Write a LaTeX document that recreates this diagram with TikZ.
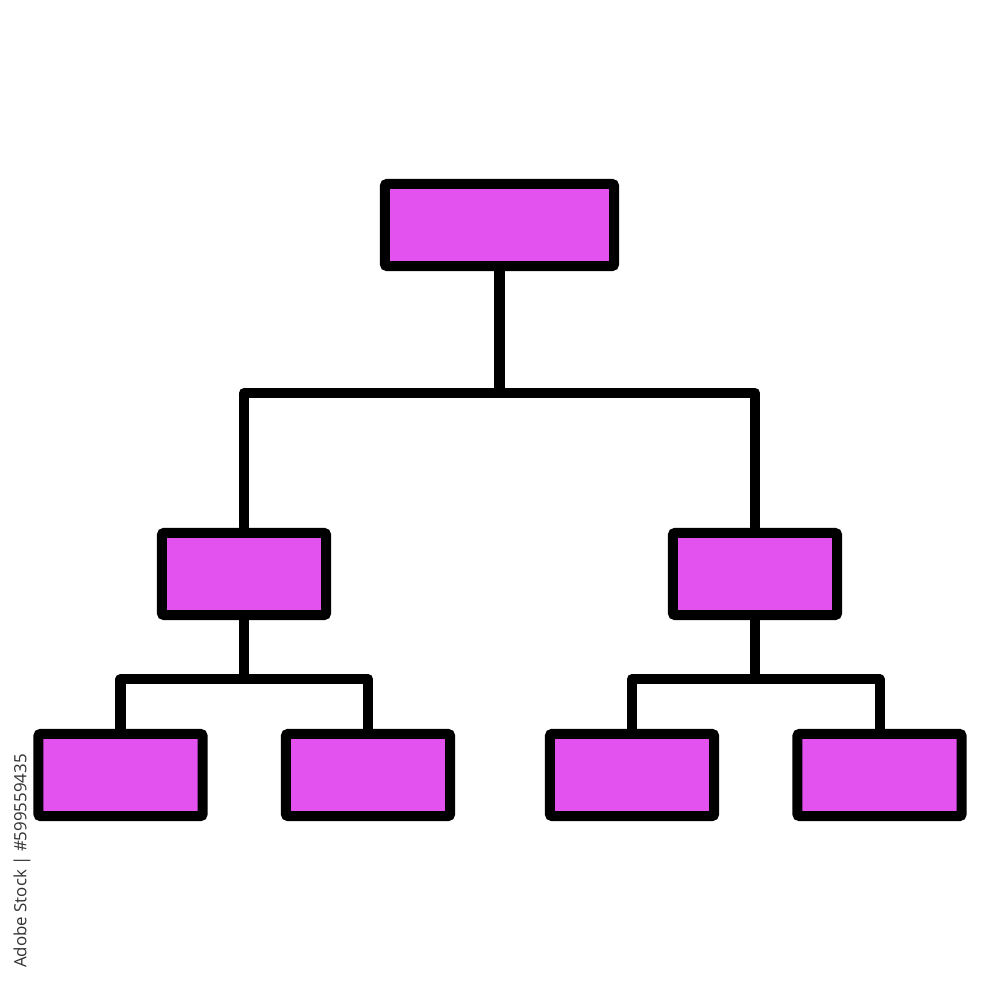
\documentclass[tikz,border=0pt]{standalone}
\usepackage{fontspec}
\newfontfamily\wmfont{Open Sans}
\definecolor{boxfill}{RGB}{227,82,238}
\definecolor{wmgray}{RGB}{50,50,50}
\begin{document}
\begin{tikzpicture}[x=0.01cm,y=-0.01cm,
  orgbox/.style={draw=black,fill=boxfill,line width=2.85pt,rounded corners=0.6pt,
    rectangle,inner sep=0pt,minimum width=1.64cm,minimum height=0.82cm},
  link/.style={draw=black,line width=2.85pt,line join=round}]
\useasboundingbox[fill=white] (0,0) rectangle (1000,1000);
\node[orgbox,minimum width=2.29cm] (top) at (499.5,225) {};
\node[orgbox] (ml) at (244,574) {};
\node[orgbox] (mr) at (755,574) {};
\node[orgbox] (b1) at (120.5,775) {};
\node[orgbox] (b2) at (368,775) {};
\node[orgbox] (b3) at (632,775) {};
\node[orgbox] (b4) at (879.5,775) {};
\coordinate (j1) at (499.5,393);
\coordinate (jl) at (244,679);
\coordinate (jr) at (755,679);
\draw[link] (top.south) -- (j1);
\draw[link] (ml.north) |- (j1) -| (mr.north);
\draw[link] (ml.south) -- (jl);
\draw[link] (b1.north) |- (jl) -| (b2.north);
\draw[link] (mr.south) -- (jr);
\draw[link] (b3.north) |- (jr) -| (b4.north);
\node[rotate=90,text=wmgray,inner sep=0pt,font=\wmfont\fontsize{4.8}{6}\selectfont] (wm) at (22,861) {Adobe Stock | \#599559435};
\end{tikzpicture}
\end{document}
